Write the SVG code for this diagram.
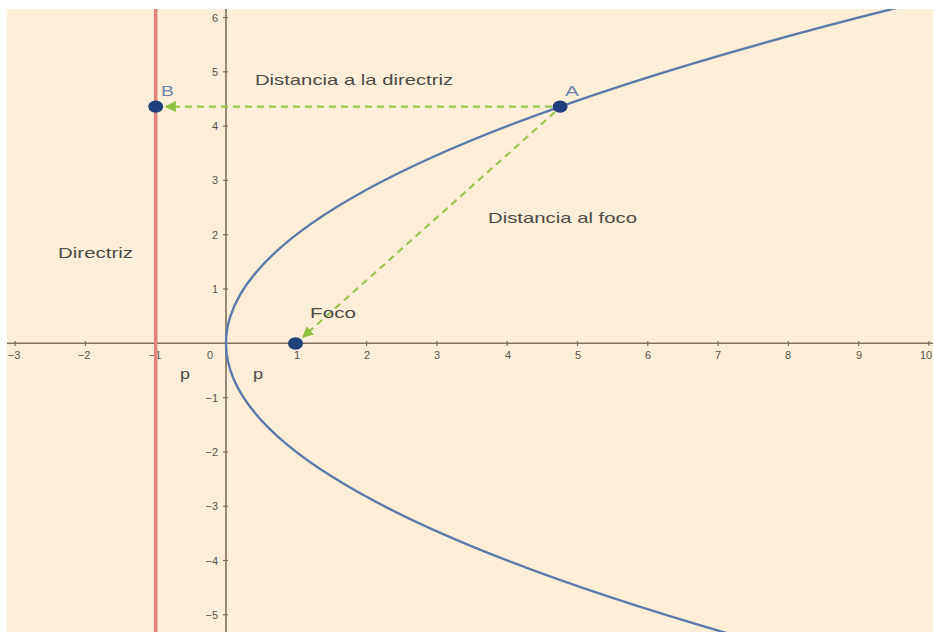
<svg xmlns="http://www.w3.org/2000/svg" width="933" height="632" viewBox="0 0 933 632">
<style>
.lbl{font-family:"Liberation Sans",Arial,sans-serif;fill:#4d4a46;font-size:15px}
.tick{font-family:"Liberation Sans",Arial,sans-serif;fill:#5a544c;font-size:11px}
.axis{stroke:#7d6e5e;stroke-width:1.6;fill:none}
.tk{stroke:#7d6e5e;stroke-width:1.2}
.dash{stroke:#98c64e;stroke-width:2.2;stroke-dasharray:7 5;fill:none}
.pt{fill:#1f3f7a}
.ptl{font-family:"Liberation Sans",Arial,sans-serif;fill:#6d84ac;font-size:15px}
</style>
<defs>
<clipPath id="plot"><rect x="7" y="9" width="926" height="623"/></clipPath>
<marker id="ah" viewBox="0 0 10 10" refX="9" refY="5" markerWidth="5" markerHeight="5" orient="auto" markerUnits="strokeWidth">
<path d="M0,0 L10,5 L0,10 z" fill="#8cc23e"/>
</marker>
</defs>
<rect width="933" height="632" fill="#ffffff"/>
<rect x="7" y="9" width="926" height="623" fill="#fdeed8"/>
<g clip-path="url(#plot)">
<g id="axes">
<line class="axis" x1="7" y1="343.3" x2="933" y2="343.3"/>
<line class="axis" x1="226" y1="9" x2="226" y2="632"/>
<g class="tk">
<line x1="15.1" y1="341" x2="15.1" y2="346"/>
<line x1="85.4" y1="341" x2="85.4" y2="346"/>
<line x1="155.7" y1="341" x2="155.7" y2="346"/>
<line x1="296.3" y1="341" x2="296.3" y2="346"/>
<line x1="366.6" y1="341" x2="366.6" y2="346"/>
<line x1="436.9" y1="341" x2="436.9" y2="346"/>
<line x1="507.2" y1="341" x2="507.2" y2="346"/>
<line x1="577.5" y1="341" x2="577.5" y2="346"/>
<line x1="647.8" y1="341" x2="647.8" y2="346"/>
<line x1="718.1" y1="341" x2="718.1" y2="346"/>
<line x1="788.4" y1="341" x2="788.4" y2="346"/>
<line x1="858.7" y1="341" x2="858.7" y2="346"/>
<line x1="929" y1="341" x2="929" y2="346"/>
<line x1="223" y1="17.5" x2="228" y2="17.5"/>
<line x1="223" y1="71.8" x2="228" y2="71.8"/>
<line x1="223" y1="126.1" x2="228" y2="126.1"/>
<line x1="223" y1="180.4" x2="228" y2="180.4"/>
<line x1="223" y1="234.7" x2="228" y2="234.7"/>
<line x1="223" y1="289" x2="228" y2="289"/>
<line x1="223" y1="397.6" x2="228" y2="397.6"/>
<line x1="223" y1="451.9" x2="228" y2="451.9"/>
<line x1="223" y1="506.2" x2="228" y2="506.2"/>
<line x1="223" y1="560.5" x2="228" y2="560.5"/>
<line x1="223" y1="614.8" x2="228" y2="614.8"/>
</g>
<g class="tick" text-anchor="middle">
<text x="14" y="359">−3</text>
<text x="84" y="359">−2</text>
<text x="155" y="359">−1</text>
<text x="210" y="359">0</text>
<text x="297" y="359">1</text>
<text x="367" y="359">2</text>
<text x="437" y="359">3</text>
<text x="508" y="359">4</text>
<text x="578" y="359">5</text>
<text x="648" y="359">6</text>
<text x="718" y="359">7</text>
<text x="788" y="359">8</text>
<text x="859" y="359">9</text>
<text x="926" y="359">10</text>
</g>
<g class="tick" text-anchor="end">
<text x="218" y="21.5">6</text>
<text x="218" y="75.8">5</text>
<text x="218" y="130.1">4</text>
<text x="218" y="184.4">3</text>
<text x="218" y="238.7">2</text>
<text x="218" y="293">1</text>
<text x="218" y="401.6">−1</text>
<text x="218" y="455.9">−2</text>
<text x="218" y="510.2">−3</text>
<text x="218" y="564.5">−4</text>
<text x="218" y="618.8">−5</text>
</g>
</g>
<g id="directrix">
<line x1="155.7" y1="9" x2="155.7" y2="632" stroke="#e3837c" stroke-width="3.5"/>
</g>
<g id="parabola">
<path d="M738.5,636.5 Q-381.4,316.15 945.9,-4.2" fill="none" stroke="#5a7aaa" stroke-width="2.4"/>
</g>
<g id="connectors">
<line class="dash" x1="552" y1="106.6" x2="166" y2="106.6" marker-end="url(#ah)"/>
<line class="dash" x1="555" y1="112" x2="303" y2="337" marker-end="url(#ah)"/>
</g>
<g id="pointA">
<ellipse class="pt" cx="560.1" cy="106.6" rx="7.5" ry="6.2"/>
<text class="ptl" x="565" y="96" textLength="14" lengthAdjust="spacingAndGlyphs">A</text>
</g>
<g id="pointB">
<ellipse class="pt" cx="155.7" cy="106.6" rx="7.5" ry="6.2"/>
<text class="ptl" x="161" y="96" textLength="13" lengthAdjust="spacingAndGlyphs">B</text>
</g>
<g id="focus">
<ellipse class="pt" cx="295.5" cy="343.5" rx="7.5" ry="6.2"/>
<text class="lbl" x="310" y="318" textLength="46" lengthAdjust="spacingAndGlyphs">Foco</text>
</g>
<g id="labels">
<text class="lbl" x="255" y="85" textLength="198" lengthAdjust="spacingAndGlyphs">Distancia a la directriz</text>
<text class="lbl" x="488" y="223" textLength="149" lengthAdjust="spacingAndGlyphs">Distancia al foco</text>
<text class="lbl" x="58" y="258" textLength="75" lengthAdjust="spacingAndGlyphs">Directriz</text>
<text class="lbl" x="180" y="379" font-size="13" textLength="10" lengthAdjust="spacingAndGlyphs">p</text>
<text class="lbl" x="253" y="379" font-size="13" textLength="10" lengthAdjust="spacingAndGlyphs">p</text>
</g>
</g>
</svg>
